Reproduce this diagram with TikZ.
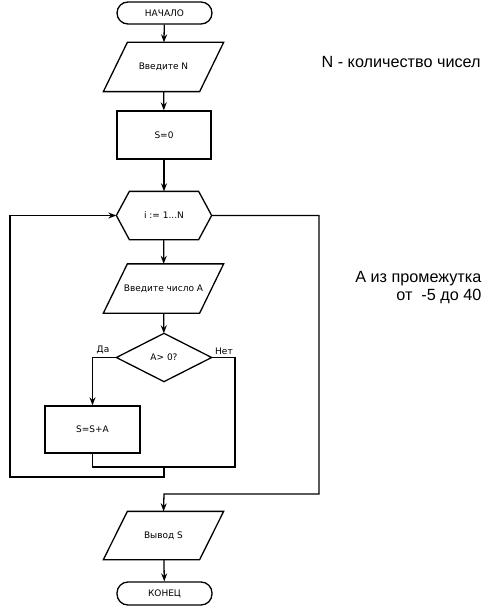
\documentclass[tikz,border=0pt]{standalone}
\usepackage{fontspec}
\setmainfont{DejaVu Sans}
\newfontfamily\notefont{Liberation Sans}
\usetikzlibrary{arrows.meta}
\begin{document}
\begin{tikzpicture}[x=1pt,y=-1pt,
  line width=1.3pt,
  every node/.style={font=\fontsize{9}{11}\selectfont, inner sep=0pt},
  box/.style={draw, minimum width=94pt, minimum height=48pt},
  term/.style={draw, rounded corners=11pt, minimum width=95pt, minimum height=22pt},
  frame/.style={minimum width=#1, minimum height=48pt},
  arr/.style={-{Stealth[length=8pt,width=6pt]}},
  note/.style={font=\notefont\fontsize{16.2}{18}\selectfont, align=right}]
\useasboundingbox (0,0) rectangle (500,615);
% nodes
\node[term] (start) at (164.5,13) {НАЧАЛО};
\node[frame=119pt] (in1) at (163.5,67) {Введите N};
\node[box] (s0) at (164,135) {S=0};
\node[minimum width=94pt, minimum height=47pt] (loop) at (164,215.5) {i := 1...N};
\node[frame=119pt] (in2) at (163.5,288.5) {Введите число А};
\node[minimum width=94pt, minimum height=47pt] (cond) at (164,357.5) {A> 0?};
\node[box, minimum width=95pt, minimum height=47pt] (add) at (92.5,429.5) {S=S+A};
\node[frame=119pt, minimum height=47pt] (out) at (163.5,535.5) {Вывод S};
\node[term, minimum height=23pt] (end) at (164.5,593.5) {КОНЕЦ};
% shapes drawn from node anchors
\draw ([xshift=24pt]in1.north west) -- (in1.north east) -- ([xshift=-24pt]in1.south east) -- (in1.south west) -- cycle;
\draw ([xshift=24pt]in2.north west) -- (in2.north east) -- ([xshift=-24pt]in2.south east) -- (in2.south west) -- cycle;
\draw ([xshift=24pt]out.north west) -- (out.north east) -- ([xshift=-24pt]out.south east) -- (out.south west) -- cycle;
\draw (loop.west) -- ([xshift=13pt]loop.north west) -- ([xshift=-13pt]loop.north east) -- (loop.east)
      -- ([xshift=-13pt]loop.south east) -- ([xshift=13pt]loop.south west) -- cycle;
\draw (cond.north) -- (cond.east) -- (cond.south) -- (cond.west) -- cycle;
% labels
\node[anchor=south] (yes) at (103,355) {Да};
\node[anchor=south] (no) at (224,355) {Нет};
\node[note, anchor=base west] (n1) at (321,68) {N - количество чисел};
\node[note, anchor=base east] (n2) at (482,282) {А из промежутка};
\node[note, anchor=base east] (n3) at (482,300) {от \ -5 до 40};
% coordinates
\coordinate (yl) at (add.north |- cond.west);
\coordinate (nr) at (235,357.5);
\coordinate (nb) at (235,467);
\coordinate (jb) at (add.south |- nb);
\coordinate (jm) at (164,467);
\coordinate (lb) at (164,477);
\coordinate (lbl) at (10,477);
\coordinate (ltl) at (10,215.5);
\coordinate (rt) at (319,215.5);
\coordinate (rb) at (319,494);
\coordinate (rbl) at (164,494);
% connectors
\draw[arr] (start) -- (in1);
\draw[arr] (in1) -- (s0);
\draw[arr] (s0) -- (loop);
\draw[arr] (loop) -- (in2);
\draw[arr] (in2) -- (cond);
\draw[arr] (cond.west) -- (yl) -- (add.north);
\draw (cond.east) -- (nr) -- (nb) -- (jb) -- (add.south);
\draw[arr] (jm) -- (lb) -- (lbl) -- (ltl) -- (loop.west);
\draw[arr] (loop.east) -- (rt) -- (rb) -- (rbl) -- (out.north);
\draw[arr] (out) -- (end);
\end{tikzpicture}
\end{document}
